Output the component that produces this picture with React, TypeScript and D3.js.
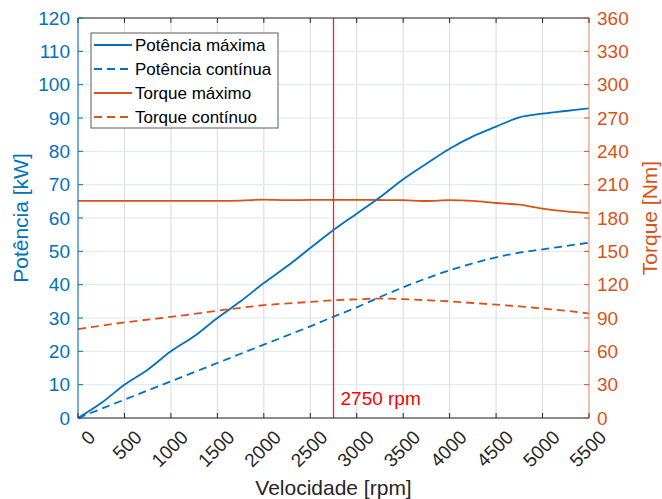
import { useRef, useEffect } from "react";
import * as d3 from "d3";

const BLUE = "#0072BD";
const ORANGE = "#D95319";
const AXIS = "#262626";

const xTicks = [0, 500, 1000, 1500, 2000, 2500, 3000, 3500, 4000, 4500, 5000, 5500];
const powerTicks = [0, 10, 20, 30, 40, 50, 60, 70, 80, 90, 100, 110, 120];
const torqueTicks = [0, 30, 60, 90, 120, 150, 180, 210, 240, 270, 300, 330, 360];

const rpmMax = [0, 250, 500, 750, 1000, 1250, 1500, 1750, 2000, 2250, 2500, 2750, 3000, 3250, 3500, 3750, 4000, 4250, 4500, 4750, 5000, 5250, 5500];
const potenciaMaxima = [0, 4.5, 10, 14.5, 20, 24.5, 30, 35, 40.5, 45.5, 51, 56.4, 61.3, 66.2, 71.6, 76.3, 80.8, 84.5, 87.4, 90.2, 91.3, 92.1, 92.9];
const torqueMaximo = [195.5, 195.5, 195.5, 195.5, 195.5, 195.5, 195.5, 195.7, 196.5, 196, 196.3, 196.3, 196.3, 196.2, 196, 195.3, 196, 195.5, 193.5, 192, 188.5, 186, 184.3];

const rpmCont = [0, 500, 1000, 1500, 2000, 2500, 2750, 3000, 3250, 3500, 3750, 4000, 4250, 4500, 4750, 5000, 5250, 5500];
const potenciaContinua = [0, 5.5, 11, 16.5, 22, 27.5, 30.4, 33.2, 36.3, 39.2, 41.9, 44.3, 46.4, 48.2, 49.6, 50.6, 51.6, 52.6];
const torqueContinuo = [80, 86, 91, 96.5, 101.5, 104.5, 106, 106.8, 107.5, 107, 106, 105, 103.5, 102, 100.5, 98.5, 96.5, 94];

const marcaRpm = 2750;

const legendItems = [
  { label: "Potência máxima", color: BLUE, dash: null },
  { label: "Potência contínua", color: BLUE, dash: "8,5" },
  { label: "Torque máximo", color: ORANGE, dash: null },
  { label: "Torque contínuo", color: ORANGE, dash: "8,5" },
];

const App = () => {
  const svgRef = useRef<SVGSVGElement>(null);
  const width = 662;
  const height = 499;
  const margin = { top: 18, right: 73, bottom: 81, left: 78 };

  useEffect(() => {
    const svg = d3.select(svgRef.current);
    svg.selectAll("*").remove();
    const font = "Liberation Sans, Arial, sans-serif";

    const cw = width - margin.left - margin.right;
    const ch = height - margin.top - margin.bottom;
    const g = svg.append("g").attr("transform", `translate(${margin.left},${margin.top})`);

    const x = d3.scaleLinear().domain([0, 5500]).range([0, cw]);
    const yL = d3.scaleLinear().domain([0, 120]).range([ch, 0]);
    const yR = d3.scaleLinear().domain([0, 360]).range([ch, 0]);

    g.append("rect").attr("width", cw).attr("height", ch).attr("fill", "#fff");

    // grid
    g.selectAll(".grid-x")
      .data(xTicks)
      .enter()
      .append("line")
      .attr("x1", (d) => x(d))
      .attr("x2", (d) => x(d))
      .attr("y1", 0)
      .attr("y2", ch)
      .style("stroke", "#dadada")
      .style("stroke-width", 1);

    g.selectAll(".grid-y")
      .data(powerTicks)
      .enter()
      .append("line")
      .attr("x1", 0)
      .attr("x2", cw)
      .attr("y1", (d) => yL(d))
      .attr("y2", (d) => yL(d))
      .style("stroke", "#d9e8f4")
      .style("stroke-width", 1);

    // lines
    const lineOf = (xs: number[], ys: number[], scale: d3.ScaleLinear<number, number>) =>
      d3
        .line<number>()
        .x((_, i) => x(xs[i]))
        .y((d) => scale(d))
        .curve(d3.curveMonotoneX)(ys);

    const series = [
      { xs: rpmCont, ys: torqueContinuo, s: yR, color: ORANGE, dash: "8,5" },
      { xs: rpmMax, ys: torqueMaximo, s: yR, color: ORANGE, dash: null },
      { xs: rpmCont, ys: potenciaContinua, s: yL, color: BLUE, dash: "8,5" },
      { xs: rpmMax, ys: potenciaMaxima, s: yL, color: BLUE, dash: null },
    ];
    series.forEach((se) => {
      g.append("path")
        .attr("d", lineOf(se.xs, se.ys, se.s))
        .attr("fill", "none")
        .attr("stroke", se.color)
        .attr("stroke-width", 1.8)
        .attr("stroke-dasharray", se.dash);
    });

    // marker line
    g.append("line")
      .attr("x1", x(marcaRpm))
      .attr("x2", x(marcaRpm))
      .attr("y1", 0)
      .attr("y2", ch)
      .attr("stroke", "#ff2020")
      .attr("stroke-width", 1.3);
    g.append("text")
      .attr("x", x(marcaRpm) + 7)
      .attr("y", ch - 13)
      .attr("fill", "#ff0000")
      .style("font-family", font)
      .style("font-size", "19px")
      .text(`${marcaRpm} rpm`);

    // box
    g.append("line").attr("x1", 0).attr("x2", cw).attr("y1", 0).attr("y2", 0).attr("stroke", AXIS);
    g.append("line").attr("x1", 0).attr("x2", cw).attr("y1", ch).attr("y2", ch).attr("stroke", AXIS);
    g.append("line").attr("x1", 0).attr("x2", 0).attr("y1", 0).attr("y2", ch).attr("stroke", BLUE);
    g.append("line").attr("x1", cw).attr("x2", cw).attr("y1", 0).attr("y2", ch).attr("stroke", "#ec9a78");

    // ticks
    xTicks.forEach((t) => {
      g.append("line").attr("x1", x(t)).attr("x2", x(t)).attr("y1", ch).attr("y2", ch - 5).attr("stroke", AXIS);
      g.append("line").attr("x1", x(t)).attr("x2", x(t)).attr("y1", 0).attr("y2", 5).attr("stroke", AXIS);
      g.append("text")
        .attr("transform", `translate(${x(t) + 9},${ch + 11}) rotate(-45)`)
        .attr("text-anchor", "end")
        .attr("dy", "0.7em")
        .attr("fill", AXIS)
        .style("font-family", font)
        .style("font-size", "19px")
        .text(t);
    });
    powerTicks.forEach((t) => {
      g.append("line").attr("x1", 0).attr("x2", 5).attr("y1", yL(t)).attr("y2", yL(t)).attr("stroke", BLUE);
      g.append("text")
        .attr("x", -8)
        .attr("y", yL(t))
        .attr("dy", "0.35em")
        .attr("text-anchor", "end")
        .attr("fill", BLUE)
        .style("font-family", font)
        .style("font-size", "19px")
        .text(t);
    });
    torqueTicks.forEach((t) => {
      g.append("line").attr("x1", cw).attr("x2", cw - 5).attr("y1", yR(t)).attr("y2", yR(t)).attr("stroke", ORANGE);
      g.append("text")
        .attr("x", cw + 8)
        .attr("y", yR(t))
        .attr("dy", "0.35em")
        .attr("fill", ORANGE)
        .style("font-family", font)
        .style("font-size", "19px")
        .text(t);
    });

    // axis labels
    g.append("text")
      .attr("transform", `translate(${-50},${ch / 2}) rotate(-90)`)
      .attr("text-anchor", "middle")
      .attr("fill", BLUE)
      .style("font-family", font)
      .style("font-size", "21px")
      .text("Potência [kW]");
    g.append("text")
      .attr("transform", `translate(${cw + 68},${ch / 2}) rotate(-90)`)
      .attr("text-anchor", "middle")
      .attr("fill", ORANGE)
      .style("font-family", font)
      .style("font-size", "21px")
      .text("Torque [Nm]");
    g.append("text")
      .attr("x", cw / 2)
      .attr("y", ch + 77)
      .attr("text-anchor", "middle")
      .attr("fill", AXIS)
      .style("font-family", font)
      .style("font-size", "21px")
      .text("Velocidade [rpm]");

    // legend
    const lg = g.append("g").attr("transform", "translate(13,15)");
    lg.append("rect")
      .attr("width", 187)
      .attr("height", 95)
      .attr("fill", "#fff")
      .attr("stroke", "#5a5a5a")
      .attr("stroke-width", 1);
    legendItems.forEach((it, i) => {
      const yy = 12 + i * 24;
      lg.append("line")
        .attr("x1", 3)
        .attr("x2", 41)
        .attr("y1", yy)
        .attr("y2", yy)
        .attr("stroke", it.color)
        .attr("stroke-width", 1.8)
        .attr("stroke-dasharray", it.dash);
      lg.append("text")
        .attr("x", 44)
        .attr("y", yy)
        .attr("dy", "0.35em")
        .attr("fill", "#000")
        .style("font-family", font)
        .style("font-size", "17px")
        .text(it.label);
    });
  }, []);

  return (
    <svg
      ref={svgRef}
      width={width}
      height={height}
      style={{ position: "absolute", left: 0, top: 0, background: "#fff" }}
    ></svg>
  );
};

export default App;
